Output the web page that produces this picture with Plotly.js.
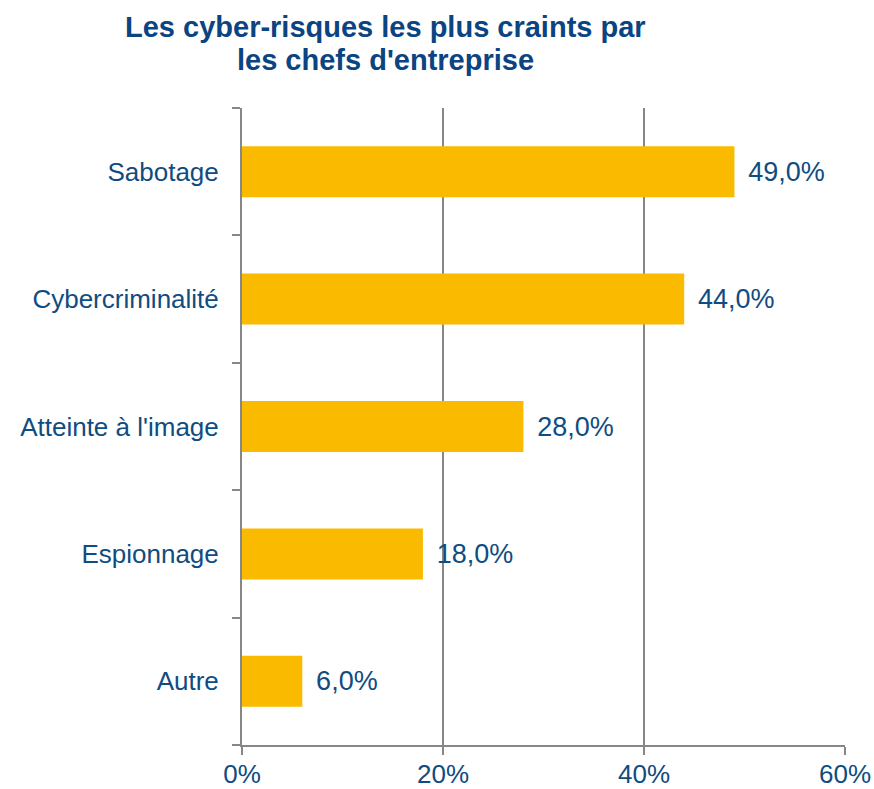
<!DOCTYPE html>
<html>
<head>
<meta charset="utf-8">
<script src="https://cdn.plot.ly/plotly-3.0.1.min.js"></script>
<style>
  body { margin: 0; background: #fff; }
  #chart { width: 874px; height: 789px; }
</style>
</head>
<body>
<div id="chart"></div>
<script>
// data (bottom to top)
const categories = ['Autre', 'Espionnage', "Atteinte à l'image", 'Cybercriminalité', 'Sabotage'];
const shares = [6.0, 18.0, 28.0, 44.0, 49.0];
const tickVals = [0, 20, 40, 60];
const tickLabels = ['0%', '20%', '40%', '60%'];
const titleLines = ['Les cyber-risques les plus craints par', "les chefs d'entreprise"];

const blue = '#0F4C81';
const titleBlue = '#0A4481';
const axisGray = '#878787';
const fontFam = 'Liberation Sans, Arial, sans-serif';

const trace = {
    type: 'bar',
    orientation: 'h',
    x: shares,
    y: categories,
    marker: { color: '#FABA00' },
    // thin spaces push the label a bit away from the bar end
    text: shares.map(v => '\u2009\u2009' + v.toFixed(1).replace('.', ',') + '%'),
    textposition: 'outside',
    constraintext: 'none',
    textfont: { family: fontFam, size: 27, color: blue },
    cliponaxis: false,
    hoverinfo: 'skip'
};

// title as two annotations so the line spacing can be set
const titleAnns = titleLines.map((t, i) => ({
    text: '<b>' + t + '</b>',
    xref: 'paper', yref: 'paper',
    x: 0.2388, xanchor: 'center',
    y: i === 0 ? 1.127 : 1.0754, yanchor: 'middle',
    showarrow: false,
    font: { family: fontFam, size: 29, color: titleBlue }
}));

const layout = {
    width: 874,
    height: 789,
    margin: { l: 242, r: 29, t: 108, b: 44 },
    paper_bgcolor: '#fff',
    plot_bgcolor: '#fff',
    font: { family: fontFam, color: blue },
    annotations: titleAnns,
    bargap: 0.6,
    showlegend: false,
    xaxis: {
        range: [0, 60],
        tickvals: tickVals,
        ticktext: tickLabels,
        tickfont: { size: 26, color: blue },
        ticks: 'outside',
        ticklen: 8,
        tickwidth: 2,
        tickcolor: axisGray,
        ticklabelstandoff: -3,
        showgrid: true,
        gridcolor: axisGray,
        gridwidth: 2,
        showline: true,
        linecolor: axisGray,
        linewidth: 2,
        zeroline: false,
        fixedrange: true
    },
    yaxis: {
        type: 'category',
        tickfont: { size: 26, color: blue },
        ticks: 'outside',
        tickson: 'boundaries',
        ticklen: 8,
        tickwidth: 2,
        tickcolor: axisGray,
        showline: true,
        linecolor: axisGray,
        linewidth: 2,
        showgrid: false,
        ticklabelstandoff: 16,
        fixedrange: true
    }
};

Plotly.newPlot('chart', [trace], layout, { displayModeBar: false, staticPlot: true });
</script>
</body>
</html>
